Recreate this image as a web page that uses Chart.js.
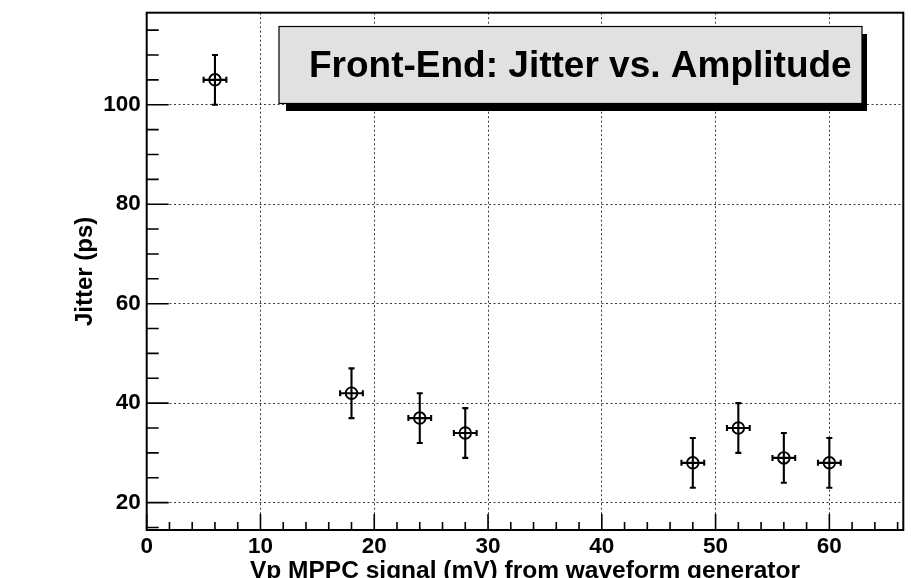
<!DOCTYPE html>
<html>
<head>
<meta charset="utf-8">
<title>Front-End: Jitter vs. Amplitude</title>
<script src="https://cdn.jsdelivr.net/npm/chart.js@4.4.1/dist/chart.umd.min.js"></script>
<style>
  html, body { margin: 0; padding: 0; background: #fff; }
  #wrap { width: 911px; height: 578px; }
</style>
</head>
<body>
<div id="wrap"><canvas id="jitterChart" width="911" height="578"></canvas></div>
<script>
const vpSignal  = [6, 18, 24, 28, 48, 52, 56, 60];     // mV
const jitterPs  = [105, 42, 37, 34, 28, 35, 29, 28];   // ps
const vpErr     = [1, 1, 1, 1, 1, 1, 1, 1];
const jitterErr = [5, 5, 5, 5, 5, 5, 5, 5];

// Axis tick labels
const xTicks = [0, 10, 20, 30, 40, 50, 60];
const yTicks = [20, 40, 60, 80, 100];

const chartTitle = 'Front-End: Jitter vs. Amplitude';
const xTitle = 'Vp MPPC signal (mV) from waveform generator';
const yTitle = 'Jitter (ps)';

const FONT = '"Liberation Sans", Arial, Helvetica, sans-serif';

// ROOT-like decorations: error bars, inward ticks, frame, title box
const rootStyle = {
    id: 'rootStyle',
    afterDatasetsDraw(chart) {
        const {ctx, chartArea: a, scales: {x, y}} = chart;
        ctx.save();
        ctx.strokeStyle = '#000';

        // error bars with small end caps
        ctx.lineWidth = 2.1;
        const cap = 3;
        vpSignal.forEach((v, i) => {
            const px = x.getPixelForValue(v);
            const py = y.getPixelForValue(jitterPs[i]);
            const x0 = x.getPixelForValue(v - vpErr[i]);
            const x1 = x.getPixelForValue(v + vpErr[i]);
            const y0 = y.getPixelForValue(jitterPs[i] - jitterErr[i]);
            const y1 = y.getPixelForValue(jitterPs[i] + jitterErr[i]);
            ctx.beginPath();
            ctx.moveTo(x0, py); ctx.lineTo(x1, py);
            ctx.moveTo(px, y0); ctx.lineTo(px, y1);
            ctx.moveTo(x0, py - cap); ctx.lineTo(x0, py + cap);
            ctx.moveTo(x1, py - cap); ctx.lineTo(x1, py + cap);
            ctx.moveTo(px - cap, y0); ctx.lineTo(px + cap, y0);
            ctx.moveTo(px - cap, y1); ctx.lineTo(px + cap, y1);
            ctx.stroke();
        });

        // inward ticks
        ctx.lineWidth = 1.6;
        ctx.beginPath();
        for (let v = 0; v <= x.max; v += 2) {
            const px = x.getPixelForValue(v);
            const len = v % 10 === 0 ? 16 : 8;
            ctx.moveTo(px, a.bottom); ctx.lineTo(px, a.bottom - len);
        }
        for (let v = 15; v <= y.max; v += 5) {
            const py = y.getPixelForValue(v);
            const len = v % 20 === 0 ? 22 : 12;
            ctx.moveTo(a.left, py); ctx.lineTo(a.left + len, py);
        }
        ctx.stroke();

        // frame
        ctx.lineWidth = 2;
        ctx.strokeRect(a.left, a.top, a.right - a.left, a.bottom - a.top);
        ctx.restore();
    },
    afterDraw(chart) {
        const {ctx} = chart;
        ctx.save();
        // shadow
        ctx.fillStyle = '#000';
        ctx.fillRect(286, 34, 581, 77);
        // box
        ctx.fillStyle = '#e1e1e1';
        ctx.fillRect(279, 26.5, 583, 77);
        ctx.strokeStyle = '#000';
        ctx.lineWidth = 1.2;
        ctx.strokeRect(279, 26.5, 583, 77);
        // text
        ctx.fillStyle = '#000';
        ctx.font = 'bold 37px ' + FONT;
        ctx.textAlign = 'left';
        ctx.textBaseline = 'alphabetic';
        ctx.fillText(chartTitle, 309, 76.7);
        ctx.restore();
    }
};

const ctx = document.getElementById('jitterChart').getContext('2d');

new Chart(ctx, {
    type: 'scatter',
    data: {
        datasets: [{
            label: yTitle,
            data: vpSignal.map((v, i) => ({x: v, y: jitterPs[i]})),
            pointStyle: 'circle',
            pointRadius: 5.8,
            pointBorderWidth: 1.9,
            pointBorderColor: '#000',
            pointBackgroundColor: 'rgba(0,0,0,0)',
            showLine: false
        }]
    },
    options: {
        responsive: false,
        devicePixelRatio: 1,
        animation: false,
        layout: { padding: { top: 12.7, right: 3.5, bottom: 0, left: 0 } },
        plugins: {
            legend: { display: false },
            tooltip: { enabled: false }
        },
        scales: {
            x: {
                type: 'linear',
                min: 0,
                max: 66.5,
                afterBuildTicks: s => { s.ticks = xTicks.map(v => ({value: v})); },
                afterFit: s => { s.height = 48; s.paddingLeft = 0; s.paddingRight = 0; },
                ticks: {
                    color: '#000',
                    padding: 3,
                    maxRotation: 0,
                    autoSkip: false,
                    font: { family: FONT, size: 22.5, weight: 'bold' }
                },
                grid: { color: '#3a3a3a', lineWidth: 1, drawTicks: false },
                border: { display: false, dash: [2, 2.5] },
                title: {
                    display: true,
                    text: xTitle,
                    color: '#000',
                    font: { family: FONT, size: 24.5, weight: 'bold' },
                    padding: { top: 0, bottom: -7.5 }
                }
            },
            y: {
                type: 'linear',
                min: 14.5,
                max: 118.5,
                afterBuildTicks: s => { s.ticks = yTicks.map(v => ({value: v})); },
                afterFit: s => { s.width = 146.7; s.paddingTop = 0; s.paddingBottom = 0; },
                ticks: {
                    color: '#000',
                    padding: 6,
                    font: { family: FONT, size: 22.5, weight: 'bold' }
                },
                grid: { color: '#3a3a3a', lineWidth: 1, drawTicks: false },
                border: { display: false, dash: [2, 2.5] },
                title: {
                    display: true,
                    text: yTitle,
                    color: '#000',
                    font: { family: FONT, size: 24, weight: 'bold' },
                    padding: { top: 71, bottom: 0 }
                }
            }
        }
    },
    plugins: [rootStyle]
});
</script>
</body>
</html>
